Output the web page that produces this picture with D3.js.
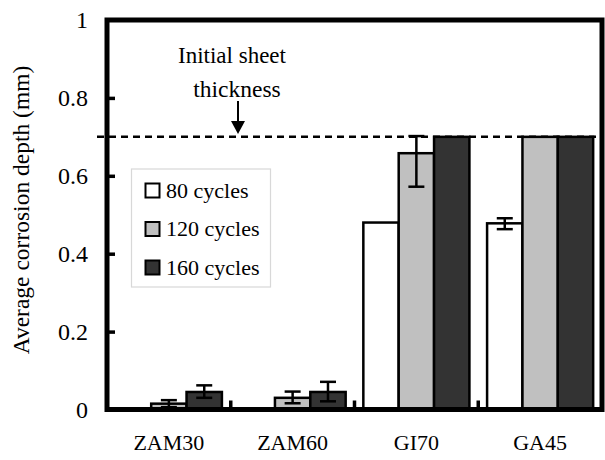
<!DOCTYPE html>
<html><head><meta charset="utf-8">
<script src="https://cdn.jsdelivr.net/npm/d3@7"></script>
<style>body{margin:0;background:#fff}svg{display:block;font-family:"Liberation Serif","Times New Roman",serif}</style>
</head><body><svg id="c" width="605" height="460"></svg>
<script>
const categories = ["ZAM30", "ZAM60", "GI70", "GA45"];
const seriesNames = ["80 cycles", "120 cycles", "160 cycles"];
const seriesColors = ["#ffffff", "#c0c0c0", "#333333"];
const values80  = [0,     0,     0.48,  0.478];
const values120 = [0.015, 0.03,  0.658, 0.70];
const values160 = [0.045, 0.045, 0.70,  0.70];
const errLow80   = [0, 0, 0, 0.015];
const errHigh80  = [0, 0, 0, 0.013];
const errLow120  = [0.009, 0.014, 0.086, 0];
const errHigh120 = [0.009, 0.016, 0.044, 0];
const errLow160  = [0.015, 0.024, 0, 0];
const errHigh160 = [0.017, 0.026, 0, 0];
const yTicks = [0, 0.2, 0.4, 0.6, 0.8, 1];
const thickness = 0.7;

const svg = d3.select("#c");
const L = 107, R = 602, T = 20, B = 409.5;
const x = d3.scaleBand().domain(categories).range([L, R]).padding(0);
const xs = d3.scaleBand().domain(seriesNames).range([0, x.bandwidth()]).paddingInner(0).paddingOuter(0.25);
const y = d3.scaleLinear().domain([0, 1]).range([B, T]);

const vals = [values80, values120, values160];
const eLo = [errLow80, errLow120, errLow160];
const eHi = [errHigh80, errHigh120, errHigh160];
const rows = [];
categories.forEach((c, i) => seriesNames.forEach((s, j) => rows.push({c, s, j, v: vals[j][i], lo: eLo[j][i], hi: eHi[j][i]})));

// bars
svg.append("g").selectAll("rect").data(rows.filter(d => d.v > 0)).join("rect")
  .attr("x", d => x(d.c) + xs(d.s)).attr("width", xs.bandwidth())
  .attr("y", d => y(d.v)).attr("height", d => y(0) - y(d.v))
  .attr("fill", d => seriesColors[d.j]).attr("stroke", "#000").attr("stroke-width", 2.5);

// error bars
const eb = svg.append("g").attr("stroke", "#000").attr("stroke-width", 2.5);
rows.filter(d => d.lo > 0 || d.hi > 0).forEach(d => {
  const cx = x(d.c) + xs(d.s) + xs.bandwidth() / 2;
  eb.append("line").attr("x1", cx).attr("x2", cx).attr("y1", y(d.v - d.lo)).attr("y2", y(d.v + d.hi));
  eb.append("line").attr("x1", cx - 8).attr("x2", cx + 8).attr("y1", y(d.v - d.lo)).attr("y2", y(d.v - d.lo));
  eb.append("line").attr("x1", cx - 8).attr("x2", cx + 8).attr("y1", y(d.v + d.hi)).attr("y2", y(d.v + d.hi));
});

// dashed thickness line
svg.append("line").attr("x1", 97).attr("x2", R).attr("y1", y(thickness)).attr("y2", y(thickness))
  .attr("stroke", "#000").attr("stroke-width", 2.5).attr("stroke-dasharray", "7,5");

// y axis ticks (inward)
const yAxis = d3.axisRight(y).tickValues(yTicks.slice(1, -1)).tickSize(8).tickFormat("");
svg.append("g").attr("transform", `translate(${L},0)`).call(yAxis)
  .call(g => g.select(".domain").remove())
  .selectAll("line").attr("stroke", "#000").attr("stroke-width", 3.5);
// y labels
svg.append("g").selectAll("text").data(yTicks).join("text")
  .attr("x", 88).attr("y", d => y(d) + 8).attr("text-anchor", "end")
  .attr("font-size", 24).text(d => d3.format("~g")(d));

// x separator ticks
const seps = categories.slice(1).map(c => x(c));
svg.append("g").selectAll("line").data(seps).join("line")
  .attr("x1", d => d).attr("x2", d => d).attr("y1", B).attr("y2", B - 9)
  .attr("stroke", "#000").attr("stroke-width", 3.5);
// x labels
svg.append("g").selectAll("text").data(categories).join("text")
  .attr("x", d => x(d) + x.bandwidth() / 2).attr("y", 450).attr("text-anchor", "middle")
  .attr("font-size", 22).text(d => d);

// frame
svg.append("rect").attr("x", L).attr("y", T).attr("width", R - L).attr("height", B - T)
  .attr("fill", "none").attr("stroke", "#000").attr("stroke-width", 5);

// y title
svg.append("text").attr("transform", `translate(29,210) rotate(-90)`)
  .attr("text-anchor", "middle").attr("font-size", 23.5).text("Average corrosion depth (mm)");

// annotation
svg.append("text").attr("x", 232).attr("y", 63).attr("text-anchor", "middle").attr("font-size", 23).text("Initial sheet");
svg.append("text").attr("x", 237).attr("y", 97).attr("text-anchor", "middle").attr("font-size", 23.5).text("thickness");
svg.append("line").attr("x1", 238).attr("x2", 238).attr("y1", 101).attr("y2", 124).attr("stroke", "#000").attr("stroke-width", 2);
svg.append("path").attr("d", `M231,121 L245,121 L238,134 Z`).attr("fill", "#000");

// legend
const lg = svg.append("g");
lg.append("rect").attr("x", 131.5).attr("y", 169).attr("width", 139).attr("height", 118)
  .attr("fill", "#fff").attr("stroke", "#d8d8d8").attr("stroke-width", 1.2);
seriesNames.forEach((s, j) => {
  const cy = 190 + j * 38.5;
  lg.append("rect").attr("x", 145.5).attr("y", cy - 6.5).attr("width", 14).attr("height", 14)
    .attr("fill", seriesColors[j]).attr("stroke", "#000").attr("stroke-width", 2);
  lg.append("text").attr("x", 166).attr("y", cy + 7.5).attr("font-size", 22).text(s);
});
</script></body></html>
